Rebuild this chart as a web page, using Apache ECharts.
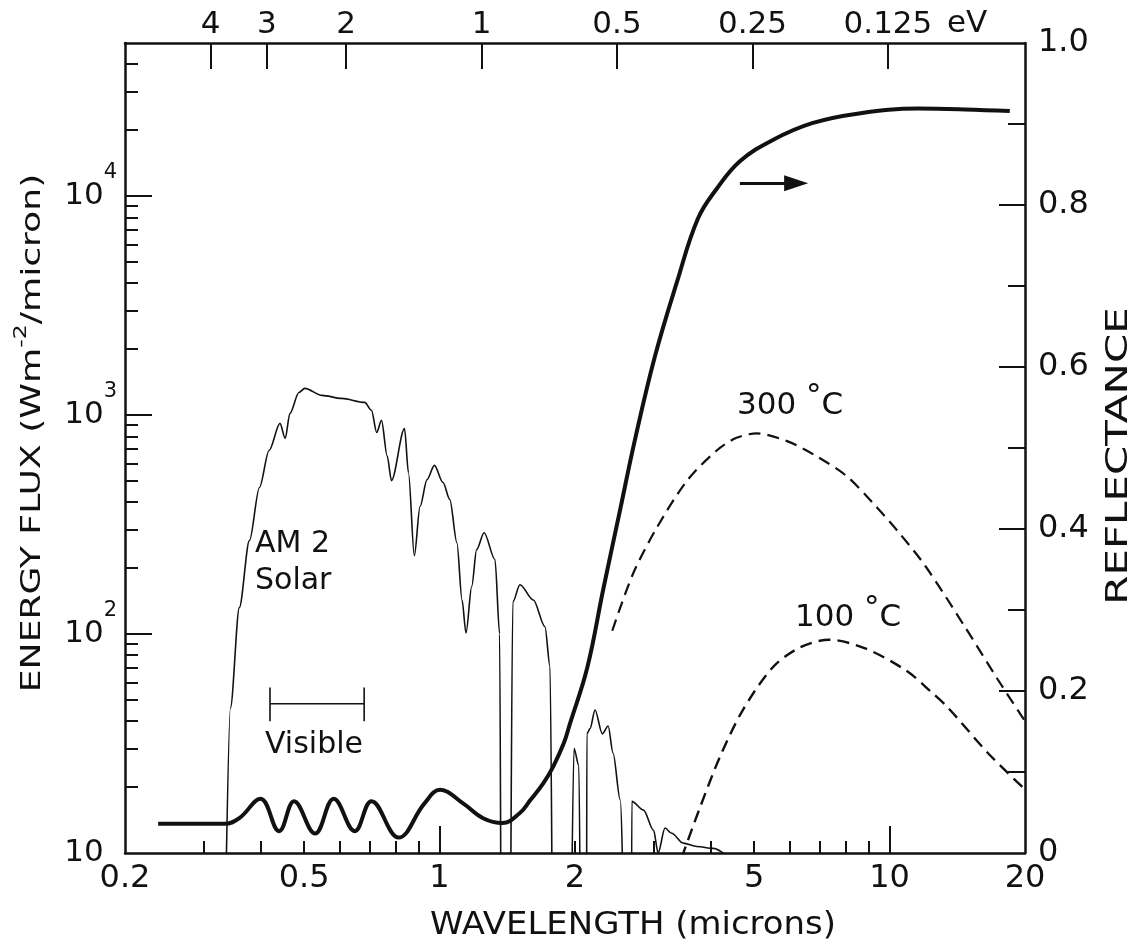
<!DOCTYPE html>
<html>
<head>
<meta charset="utf-8">
<script src="https://cdn.jsdelivr.net/npm/echarts@6/dist/echarts.min.js"></script>
<style>
  html, body { margin: 0; padding: 0; background: #fff; }
  #chart { width: 1139px; height: 945px; }
</style>
</head>
<body>
<div id="chart"></div>
<script>
// ---- axis scales -------------------------------------------------------
const wavelengthLabels = [0.2, 0.5, 1, 2, 5, 10, 20];               // microns
const wavelengthMajorTicks = [1, 10];
const wavelengthMinorTicks = [0.3, 0.4, 0.5, 0.6, 0.7, 0.8, 0.9, 2, 3, 4, 5, 6, 7, 8, 9];
const photonEnergyTicks = [4, 3, 2, 1, 0.5, 0.25, 0.125];            // eV
const fluxLabels = [10, 100, 1000, 10000];                           // W m^-2 / micron
const fluxMajorTicks = [100, 1000, 10000];
const fluxMinorTicks = [20, 30, 40, 50, 60, 70, 80, 90,
                        200, 300, 400, 500, 600, 700, 800, 900,
                        2000, 3000, 4000, 5000, 6000, 7000, 8000, 9000,
                        20000, 30000, 40000];
const reflectanceLabels = [0, 0.2, 0.4, 0.6, 0.8, 1.0];
const reflectanceMajorTicks = [0.2, 0.4, 0.6, 0.8];
const reflectanceMinorTicks = [0.1, 0.3, 0.5, 0.7, 0.9];

// ---- curves: [wavelength (microns), value] ------------------------------
// AM2 solar spectrum (flux); values of 1 lie below the axis floor (absorption bands)
const solarAM2 = [
  [0.330, 1], [0.343, 46], [0.359, 132], [0.378, 267], [0.398, 467], [0.418, 689],
  [0.442, 916], [0.454, 782], [0.465, 1017], [0.487, 1268], [0.502, 1324], [0.548, 1230],
  [0.606, 1191], [0.682, 1142], [0.706, 1050], [0.725, 832], [0.743, 945], [0.765, 650],
  [0.782, 502], [0.836, 868], [0.853, 545], [0.879, 228], [0.905, 382], [0.938, 507],
  [0.974, 589], [1.018, 492], [1.054, 411], [1.093, 261], [1.122, 143], [1.145, 101],
  [1.179, 165], [1.209, 243], [1.256, 290], [1.328, 219], [1.360, 100], [1.375, 1],
  [1.428, 1], [1.455, 140], [1.509, 168], [1.616, 143], [1.715, 108], [1.760, 71],
  [1.795, 1], [1.940, 1], [1.990, 30], [2.040, 25], [2.070, 1], [2.120, 1],
  [2.125, 35], [2.160, 37], [2.216, 45], [2.300, 35], [2.370, 38], [2.430, 28.6],
  [2.520, 17.5], [2.620, 1], [2.665, 1], [2.675, 17.2], [2.840, 15.7], [2.990, 12.7],
  [3.060, 10], [3.170, 13], [3.280, 12.3], [3.480, 11.1], [3.730, 10.7], [4.060, 10.5],
  [4.400, 9.5]
];
// Selective-surface reflectance (right axis)
const reflectance = [
  [0.237, 0.036], [0.333, 0.036], [0.359, 0.043], [0.400, 0.067], [0.440, 0.027],
  [0.475, 0.064], [0.529, 0.024], [0.582, 0.067], [0.648, 0.027], [0.706, 0.064],
  [0.811, 0.019], [0.925, 0.061], [1.003, 0.078], [1.130, 0.061], [1.250, 0.043],
  [1.380, 0.037], [1.506, 0.049], [1.590, 0.065], [1.700, 0.086], [1.790, 0.107],
  [1.890, 0.136], [1.950, 0.160], [2.130, 0.229], [2.310, 0.325], [2.520, 0.424],
  [2.720, 0.511], [3.010, 0.613], [3.370, 0.705], [3.750, 0.783], [4.130, 0.820],
  [4.650, 0.854], [5.490, 0.880], [6.730, 0.901], [8.550, 0.913], [11.60, 0.919],
  [14.70, 0.918], [18.50, 0.916]
];
// Black-body emission (flux)
const blackbody300 = [
  [2.42, 103.5], [2.69, 188], [3.04, 306], [3.55, 502], [4.13, 689], [4.57, 787],
  [5.07, 824], [5.92, 760], [6.88, 649], [8.03, 526], [9.18, 397], [10.5, 290],
  [12.0, 205], [14.7, 108], [17.4, 62], [20.0, 40]
];
const blackbody100 = [
  [3.45, 9.5], [3.79, 16.1], [4.19, 27.2], [4.71, 44.6], [5.49, 70.1], [6.30, 86.5],
  [7.34, 94.2], [8.86, 85.7], [10.9, 68], [12.3, 55], [13.5, 46], [16.6, 28.4],
  [20.0, 19.5]
];
// Visible band (microns)
const visibleRange = [0.42, 0.68];

// ---- styling helpers ----------------------------------------------------
const INK = '#111';
const FONT = "'DejaVu Sans', 'Liberation Sans', sans-serif";
const HC = 1.2398; // eV * micron

function nearest(list, v, f) {
  return list.reduce((a, b) => Math.abs(f(b) - v) < Math.abs(f(a) - v) ? b : a);
}
const frameLine = { show: true, onZero: false, lineStyle: { color: INK, width: 2.5 } };
const noLine = { show: false, onZero: false };
const noSplit = { show: false };

function xLog(extra) {
  return Object.assign({
    type: 'log', logBase: 10, min: 0.2, max: 20, gridIndex: 0,
    splitLine: noSplit, minorTick: { show: false }, minorSplitLine: { show: false }
  }, extra);
}
function yLog(extra) {
  return Object.assign({
    type: 'log', logBase: 10, min: 10, max: 50000, gridIndex: 0,
    splitLine: noSplit, minorTick: { show: false }, minorSplitLine: { show: false }
  }, extra);
}
function yLin(extra) {
  return Object.assign({
    type: 'value', min: 0, max: 1, gridIndex: 0,
    splitLine: noSplit, minorTick: { show: false }
  }, extra);
}
const tick = (len, values) => ({
  show: true, inside: true, length: len, customValues: values,
  lineStyle: { color: INK, width: 2 }
});

// visible-range bracket, drawn at a fixed flux level with short end caps
const bracketLevel = 48, capLow = 40, capHigh = 57;
const visibleBracket = [
  [visibleRange[0], capHigh], [visibleRange[0], capLow], [visibleRange[0], bracketLevel],
  [visibleRange[1], bracketLevel], [visibleRange[1], capHigh], [visibleRange[1], capLow]
];

const chart = echarts.init(document.getElementById('chart'), null, { renderer: 'canvas' });

const degreeLabel = (text) => ({
  text, fontFamily: FONT, fontSize: 31, fill: INK, lineHeight: 50,
  align: 'left', verticalAlign: 'middle',
  rich: { d: { fontFamily: FONT, fontSize: 31, lineHeight: 26, fill: INK, verticalAlign: 'top' } }
});

const option = {
  backgroundColor: '#fff',
  animation: false,
  grid: { left: 125, right: 114, top: 43, bottom: 92, outerBoundsMode: 'none', containLabel: false },
  xAxis: [
    xLog({
      position: 'bottom', axisLine: frameLine,
      axisTick: tick(27, wavelengthMajorTicks),
      axisLabel: {
        customValues: wavelengthLabels, interval: 0, margin: 10,
        color: INK, fontFamily: FONT, fontSize: 32,
        formatter: v => String(nearest(wavelengthLabels, Math.log10(v), w => Math.log10(w)))
      }
    }),
    xLog({
      position: 'bottom', axisLine: noLine,
      axisTick: tick(12, wavelengthMinorTicks),
      axisLabel: { show: false }
    }),
    xLog({
      position: 'top', axisLine: frameLine,
      axisTick: tick(26, photonEnergyTicks.map(e => HC / e)),
      axisLabel: {
        customValues: photonEnergyTicks.map(e => HC / e), interval: 0, margin: 3,
        color: INK, fontFamily: FONT, fontSize: 31,
        formatter: v => String(nearest(photonEnergyTicks, Math.log10(v), e => Math.log10(HC / e)))
      }
    })
  ],
  yAxis: [
    yLog({
      position: 'left', axisLine: frameLine,
      axisTick: tick(27, fluxMajorTicks),
      axisLabel: {
        customValues: fluxLabels, interval: 0, margin: 8,
        color: INK, fontFamily: FONT, fontSize: 31, lineHeight: 68,
        formatter: v => {
          const n = Math.round(Math.log10(v));
          return n === 1 ? '10{h|1}' : '10{s|' + n + '}';
        },
        rich: {
          s: { color: INK, fontFamily: FONT, fontSize: 21, lineHeight: 21, verticalAlign: 'top' },
          h: { color: 'rgba(0,0,0,0)', fontFamily: FONT, fontSize: 21, lineHeight: 21, verticalAlign: 'top' }
        }
      }
    }),
    yLog({
      position: 'left', axisLine: noLine,
      axisTick: tick(13, fluxMinorTicks),
      axisLabel: { show: false }
    }),
    yLin({
      position: 'right', axisLine: frameLine,
      axisTick: tick(26, reflectanceMajorTicks),
      axisLabel: {
        customValues: reflectanceLabels, interval: 0, margin: 13,
        color: INK, fontFamily: FONT, fontSize: 32,
        formatter: v => (Math.abs(v) < 1e-9 ? '0' : v.toFixed(1))
      }
    }),
    yLin({
      position: 'right', axisLine: noLine,
      axisTick: tick(17, reflectanceMinorTicks),
      axisLabel: { show: false }
    })
  ],
  series: [
    {
      name: 'AM 2 Solar', type: 'line', xAxisIndex: 0, yAxisIndex: 0,
      data: solarAM2, showSymbol: false, symbol: 'none', clip: true,
      smooth: 0.3, smoothMonotone: 'x',
      lineStyle: { color: INK, width: 1.6 }
    },
    {
      name: 'Reflectance', type: 'line', xAxisIndex: 0, yAxisIndex: 2,
      data: reflectance, showSymbol: false, symbol: 'none', clip: true,
      smooth: 0.4,
      lineStyle: { color: INK, width: 4 },
      markLine: {
        silent: true, symbol: ['none', 'triangle'], symbolSize: [16, 24],
        label: { show: false },
        lineStyle: { color: INK, width: 3, type: 'solid' },
        emphasis: { disabled: true },
        data: [[{ coord: [4.65, 0.827] }, { coord: [6.2, 0.827] }]]
      }
    },
    {
      name: '300 °C', type: 'line', xAxisIndex: 0, yAxisIndex: 0,
      data: blackbody300, showSymbol: false, symbol: 'none', clip: true, smooth: 0.3,
      lineStyle: { color: INK, width: 2.2, type: [12, 7] }
    },
    {
      name: '100 °C', type: 'line', xAxisIndex: 0, yAxisIndex: 0,
      data: blackbody100, showSymbol: false, symbol: 'none', clip: true, smooth: 0.3,
      lineStyle: { color: INK, width: 2.4, type: [12, 7] }
    },
    {
      name: 'Visible', type: 'line', xAxisIndex: 0, yAxisIndex: 0,
      data: visibleBracket, showSymbol: false, symbol: 'none',
      lineStyle: { color: INK, width: 1.6 }
    }
  ],
  graphic: [
    { type: 'text', x: 633, y: 926, scaleX: 1.06, silent: true,
      style: { text: 'WAVELENGTH (microns)', fontFamily: FONT, fontSize: 32, fill: INK,
               align: 'center', verticalAlign: 'middle' } },
    { type: 'text', x: 33, y: 433, rotation: Math.PI / 2, scaleX: 1.39, silent: true,
      style: { text: 'ENERGY FLUX (Wm{s|-2}/micron)', fontFamily: FONT, fontSize: 26, fill: INK,
               lineHeight: 40, align: 'center', verticalAlign: 'middle',
               rich: { s: { fontFamily: FONT, fontSize: 17, lineHeight: 17, fill: INK, verticalAlign: 'top' } } } },
    { type: 'text', x: 1119, y: 456, rotation: Math.PI / 2, scaleX: 1.4, silent: true,
      style: { text: 'REFLECTANCE', fontFamily: FONT, fontSize: 30, fill: INK,
               align: 'center', verticalAlign: 'middle' } },
    { type: 'text', x: 947, y: 24, silent: true,
      style: { text: 'eV', fontFamily: FONT, fontSize: 31, fill: INK, align: 'left', verticalAlign: 'middle' } },
    { type: 'text', x: 255, y: 544, silent: true,
      style: { text: 'AM 2', fontFamily: FONT, fontSize: 30, fill: INK, align: 'left', verticalAlign: 'middle' } },
    { type: 'text', x: 255, y: 581, silent: true,
      style: { text: 'Solar', fontFamily: FONT, fontSize: 30, fill: INK, align: 'left', verticalAlign: 'middle' } },
    { type: 'text', x: 265, y: 745, silent: true,
      style: { text: 'Visible', fontFamily: FONT, fontSize: 30, fill: INK, align: 'left', verticalAlign: 'middle' } },
    { type: 'text', x: 737, y: 406, silent: true, style: degreeLabel('300 {d|°}C') },
    { type: 'text', x: 795, y: 618, silent: true, style: degreeLabel('100 {d|°}C') }
  ]
};

chart.setOption(option);
</script>
</body>
</html>
